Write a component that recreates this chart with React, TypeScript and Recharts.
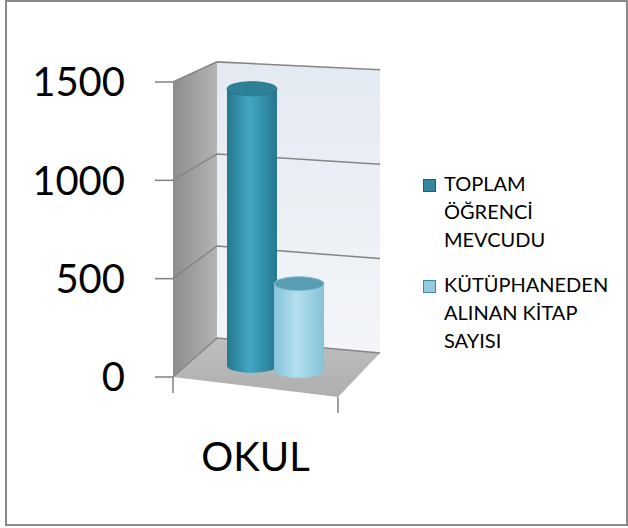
import React from "react";
import { BarChart, Bar, XAxis, YAxis, CartesianGrid, Legend } from "recharts";

const categories = ["OKUL"];
const seriesKeys = ["ogrenci", "kitap"];
const seriesNames = ["TOPLAM ÖĞRENCİ MEVCUDU", "KÜTÜPHANEDEN ALINAN KİTAP SAYISI"];
const toplamOgrenci = [1440];
const alinanKitap = [450];
const yTicks = [0, 500, 1000, 1500];
const Y_MAX = 1500;

const data = categories.map((name, i) => ({
  name,
  ogrenci: toplamOgrenci[i],
  kitap: alinanKitap[i],
}));

const FONT = "Lato, 'Open Sans', sans-serif";
const CHART_W = 628;
const CHART_H = 528;
const MARGIN = { top: 82, right: 290, bottom: 51, left: 0 };
const Y_AXIS_W = 173;
const X_AXIS_H = 100;

// plot area (front plane) – follows from the margins above
const L = MARGIN.left + Y_AXIS_W;
const T = MARGIN.top;
const W = CHART_W - MARGIN.right - L;
const H = CHART_H - MARGIN.bottom - X_AXIS_H - T;
const B = T + H;

// fake 3d box corners: bottom point and wall height
const fl = { x: L, y: B, h: H };
const fr = { x: L + W, y: B + 20, h: H * 1.02 };
const bl = { x: L + 44, y: B - 39, h: H * 0.936 };
const br = { x: L + W + 42, y: B - 24, h: H * 0.96 };

const lerp = (a: number, b: number, t: number) => a + (b - a) * t;
function project(u: number, w: number, v: number) {
  const f = (k: "x" | "y" | "h") => lerp(lerp(fl[k], fr[k], u), lerp(bl[k], br[k], u), w);
  return { x: f("x"), y: f("y") - (f("h") * v) / Y_MAX };
}
const pts = (list: { x: number; y: number }[]) => list.map((p) => `${p.x},${p.y}`).join(" ");

const palette = {
  ogrenci: { legend: "#31859c", border: "#205d6e", dark: "#25778e", light: "#42a7c3", top: "#2d8098" },
  kitap: { legend: "#93cddd", border: "#3a8aa0", dark: "#86c2d7", light: "#b4e1ef", top: "#5a9db3" },
};

function Walls() {
  const side = [project(0, 0, 0), project(0, 1, 0), project(0, 1, Y_MAX), project(0, 0, Y_MAX)];
  const back = [project(0, 1, 0), project(1, 1, 0), project(1, 1, Y_MAX), project(0, 1, Y_MAX)];
  const floor = [project(0, 0, 0), project(1, 0, 0), project(1, 1, 0), project(0, 1, 0)];
  const a = project(0, 0, 0);
  const b = project(1, 0, 0);
  return (
    <svg width={CHART_W} height={CHART_H} style={{ position: "absolute", left: 0, top: 0 }}>
      <defs>
        <linearGradient id="sideG" x1="0" y1="0" x2="1" y2="0">
          <stop offset="0%" stopColor="#8d8d8d" />
          <stop offset="100%" stopColor="#b4b4b4" />
        </linearGradient>
        <linearGradient id="backG" x1="0" y1="0" x2="0" y2="1">
          <stop offset="0%" stopColor="#e4eaf2" />
          <stop offset="100%" stopColor="#f3f5f8" />
        </linearGradient>
        <linearGradient id="floorG" x1="0" y1="1" x2="0" y2="0">
          <stop offset="0%" stopColor="#aeaeae" />
          <stop offset="100%" stopColor="#bfbfbf" />
        </linearGradient>
      </defs>
      <polygon points={pts(side)} fill="url(#sideG)" />
      <polygon points={pts(back)} fill="url(#backG)" />
      <polygon points={pts(floor)} fill="url(#floorG)" />
      <line x1={a.x} y1={a.y} x2={a.x} y2={a.y + 16} stroke="#808080" strokeWidth={1.5} />
      <line x1={b.x} y1={b.y} x2={b.x} y2={b.y + 16} stroke="#808080" strokeWidth={1.5} />
    </svg>
  );
}

function GridLine(props: any) {
  const v = ((B - props.y1) / H) * Y_MAX;
  const line = [project(0, 0, v), project(0, 1, v), project(1, 1, v)];
  return <polyline key={props.key} points={pts(line)} fill="none" stroke="#858585" strokeWidth={1.5} />;
}

function Cylinder(props: any) {
  const { x, width, height, seriesKey } = props;
  if (!height) return null;
  const c = palette[seriesKey as "ogrenci" | "kitap"];
  const u = (x + width / 2 - L) / W;
  const base = project(u, 0.5, 0);
  const topP = project(u, 0.5, (height / H) * Y_MAX);
  const yb = base.y;
  const yt = topP.y;
  const rx = width / 2;
  const ry = width * 0.14;
  const gid = `cyl-${seriesKey}`;
  return (
    <g>
      <defs>
        <linearGradient id={gid} x1="0" y1="0" x2="1" y2="0">
          <stop offset="0%" stopColor={c.dark} />
          <stop offset="45%" stopColor={c.light} />
          <stop offset="100%" stopColor={c.dark} />
        </linearGradient>
      </defs>
      <path
        d={`M${x},${yt} L${x},${yb} A${rx},${ry} 0 0 0 ${x + width},${yb} L${x + width},${yt} Z`}
        fill={`url(#${gid})`}
      />
      <ellipse cx={x + rx} cy={yt} rx={rx} ry={ry} fill={c.top} stroke={c.dark} strokeWidth={1} />
    </g>
  );
}

function OkulTick(props: any) {
  const { x, y, payload } = props;
  return (
    <text x={x - 20} y={y} textAnchor="middle" fontFamily={FONT} fontSize={40} fill="#000">
      {payload.value}
    </text>
  );
}

function LegendBox(props: any) {
  const items = [...(props.payload || [])].sort(
    (a: any, b: any) => seriesKeys.indexOf(a.dataKey) - seriesKeys.indexOf(b.dataKey)
  );
  return (
    <div style={{ fontFamily: FONT, fontSize: 20, lineHeight: "28px", color: "#000" }}>
      {items.map((it: any, i: number) => (
        <div key={i} style={{ display: "flex", alignItems: "flex-start", marginBottom: 17 }}>
          <div
            style={{
              width: 11,
              height: 11,
              marginTop: 10,
              marginRight: 8,
              flex: "none",
              background: it.color,
              border: `1px solid ${palette[it.dataKey as "ogrenci" | "kitap"].border}`,
            }}
          />
          <div style={{ width: 140 }}>{it.value}</div>
        </div>
      ))}
    </div>
  );
}

export default function App() {
  return (
    <div style={{ position: "absolute", left: 0, top: 0, width: CHART_W, height: CHART_H, background: "#fff" }}>
      <div
        style={{
          position: "absolute",
          left: 5,
          top: 0,
          width: 619,
          height: 522,
          border: "2px solid #8a8a8a",
        }}
      />
      <Walls />
      <div style={{ position: "absolute", left: 0, top: 0 }}>
        <BarChart width={CHART_W} height={CHART_H} data={data} margin={MARGIN} barGap={-3}>
          <CartesianGrid vertical={false} horizontal={(p: any) => <GridLine {...p} />} />
          <XAxis
            dataKey="name"
            height={X_AXIS_H}
            padding={{ left: 40, right: 0 }}
            axisLine={false}
            tickLine={false}
            tickSize={0}
            tickMargin={94}
            tick={<OkulTick />}
          />
          <YAxis
            width={Y_AXIS_W}
            domain={[0, Y_MAX]}
            ticks={yTicks}
            interval={0}
            axisLine={false}
            tickSize={18}
            tickMargin={30}
            tickLine={{ stroke: "#808080", strokeWidth: 1.5 }}
            tick={{ fontFamily: FONT, fontSize: 40, fill: "#000" }}
          />
          <Legend
            layout="vertical"
            align="center"
            verticalAlign="middle"
            wrapperStyle={{ left: 423, top: 169, width: 200 }}
            content={<LegendBox />}
          />
          <Bar
            dataKey="ogrenci"
            name={seriesNames[0]}
            fill={palette.ogrenci.legend}
            barSize={50}
            isAnimationActive={false}
            shape={(p: any) => <Cylinder {...p} seriesKey="ogrenci" />}
          />
          <Bar
            dataKey="kitap"
            name={seriesNames[1]}
            fill={palette.kitap.legend}
            barSize={50}
            isAnimationActive={false}
            shape={(p: any) => <Cylinder {...p} seriesKey="kitap" />}
          />
        </BarChart>
      </div>
    </div>
  );
}
